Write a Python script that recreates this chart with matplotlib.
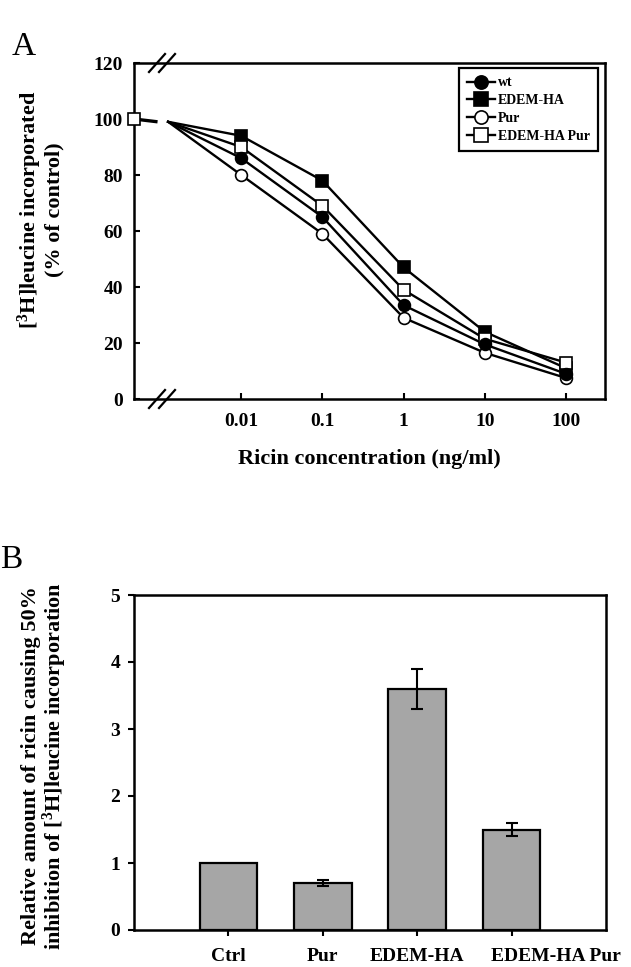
import matplotlib
matplotlib.use("Agg")
import matplotlib.pyplot as plt
from matplotlib.lines import Line2D
from matplotlib.transforms import ScaledTranslation
import numpy as np

# ---- data: panel A (ricin dose response, % of control) ----
conc = [0.01, 0.1, 1, 10, 100]
conc_labels = ["0.01", "0.1", "1", "10", "100"]
wt = [86, 65, 33.5, 19.5, 9]
edem_ha = [94, 78, 47, 24, 11]
pur = [80, 59, 29, 16.5, 7.5]
edem_ha_pur = [90, 69, 39, 21.5, 13]
control_value = 100

# ---- data: panel B (relative IC50) ----
groups = ["Ctrl", "Pur", "EDEM-HA", "EDEM-HA Pur"]
rel_amount = [1.0, 0.7, 3.6, 1.5]
rel_err = [0.0, 0.05, 0.3, 0.1]

plt.rcParams["font.family"] = ["Liberation Serif", "DejaVu Serif"]
plt.rcParams["font.weight"] = "bold"
plt.rcParams["mathtext.fontset"] = "custom"
plt.rcParams["mathtext.rm"] = "Liberation Serif:bold"
plt.rcParams["mathtext.bf"] = "Liberation Serif:bold"
plt.rcParams["mathtext.it"] = "Liberation Serif:bold:italic"

W, H = 631, 967
fig = plt.figure(figsize=(W / 100, H / 100), dpi=100)


def px_axes(l, t, r, b):
    return fig.add_axes([l / W, 1 - b / H, (r - l) / W, (b - t) / H])


# ========== Panel A ==========
axA = px_axes(134, 63, 605, 399)
logc = np.log10(conc)
ctrl_pos = -3.32      # control (no ricin) sits at the left of the broken axis
break_pos = -2.9      # curves start just right of the break

series = [
    ("Pur", pur, "o", "white"),
    ("EDEM-HA", edem_ha, "s", "black"),
    ("EDEM-HA Pur", edem_ha_pur, "s", "white"),
    ("wt", wt, "o", "black"),
]
styles = {}
for name, vals, mk, fc in series:
    xs = np.concatenate([[break_pos], logc])
    ys = np.concatenate([[control_value - 1], vals])
    axA.plot(xs, ys, color="black", lw=1.7, zorder=2)
    axA.plot(logc, vals, ls="none", marker=mk, ms=8.5 if mk == "o" else 8,
             mfc=fc, mec="black", mew=1.2, zorder=3)
    styles[name] = (mk, fc)

# control point with short stub towards the break
axA.plot([ctrl_pos, -3.03], [control_value, control_value - 1], color="black", lw=2.4,
         solid_capstyle="butt", zorder=2, clip_on=False)
axA.plot([ctrl_pos], [control_value], ls="none", marker="s", ms=8, mfc="white",
         mec="black", mew=1.2, zorder=4, clip_on=False)

axA.set_xlim(ctrl_pos, 2.48)
axA.set_ylim(0, 120)
axA.set_yticks(np.arange(0, 121, 20))
axA.set_xticks(logc)
axA.set_xticklabels(conc_labels)
axA.tick_params(direction="in", length=4, width=1.5, labelsize=14, pad=8)
axA.tick_params(axis="x", pad=10)
for sp in axA.spines.values():
    sp.set_linewidth(1.8)
axA.set_xlabel("Ricin concentration (ng/ml)", fontsize=16, fontweight="bold", labelpad=14)

# axis break marks
for yb in (0, 1):
    for dx in (0, 10):
        x0 = (149 - 134 + dx) / 471
        axA.plot([x0, x0 + 16 / 471], [yb - 9 / 336, yb + 9 / 336],
                 transform=axA.transAxes, color="black", lw=1.6, clip_on=False)

leg_order = ["wt", "EDEM-HA", "Pur", "EDEM-HA Pur"]
leg_handles = [Line2D([], [], color="black", lw=1.7, marker=styles[n][0], ms=9.5,
                      mfc=styles[n][1], mec="black", mew=1.2) for n in leg_order]
leg = axA.legend(leg_handles, leg_order, loc="upper right", bbox_to_anchor=(0.985, 0.985),
                 fancybox=False, framealpha=1, edgecolor="black", handlelength=2.0,
                 handletextpad=0.2, labelspacing=0.35, borderpad=0.6, borderaxespad=0,
                 prop={"size": 10, "weight": "bold"})
leg.get_frame().set_linewidth(1.6)

fig.text(40 / W, 1 - 210 / H, "[$^{3}$H]leucine incorporated\n(% of control)",
         rotation=90, ha="center", va="center", fontsize=16, fontweight="bold",
         linespacing=1.0)
fig.text(12 / W, 1 - 55 / H, "A", fontsize=24, fontweight="normal")

# ========== Panel B ==========
axB = px_axes(134, 595, 606, 930)
xpos = np.arange(1, len(groups) + 1)
axB.bar(xpos, rel_amount, width=0.61, color="#a6a6a6", edgecolor="black", lw=1.6, zorder=2)
err_idx = [i for i, e in enumerate(rel_err) if e > 0]
axB.errorbar(xpos[err_idx], np.array(rel_amount)[err_idx], yerr=np.array(rel_err)[err_idx],
             fmt="none", ecolor="black", elinewidth=1.5, capsize=4, capthick=1.5, zorder=3)
axB.set_xlim(0, 5)
axB.set_ylim(0, 5)
axB.set_yticks(range(0, 6))
axB.set_xticks(xpos)
axB.set_xticklabels(groups)
axB.tick_params(direction="out", length=4, width=1.5, labelsize=14, pad=6)
axB.tick_params(axis="x", pad=9)
for sp in axB.spines.values():
    sp.set_linewidth(1.8)
# last label starts just left of its tick, as in the original
last = axB.get_xticklabels()[-1]
last.set_ha("left")
last.set_transform(last.get_transform() + ScaledTranslation(-21 / 100, 0, fig.dpi_scale_trans))

fig.text(45 / W, 1 - 766 / H,
         "Relative amount of ricin causing 50%\ninhibition of [$^{3}$H]leucine incorporation",
         rotation=90, ha="center", va="center", fontsize=16, fontweight="bold",
         linespacing=1.0)
fig.text(0, 1 - 568 / H, "B", fontsize=24, fontweight="normal")

fig.savefig("out.png", dpi=100)
